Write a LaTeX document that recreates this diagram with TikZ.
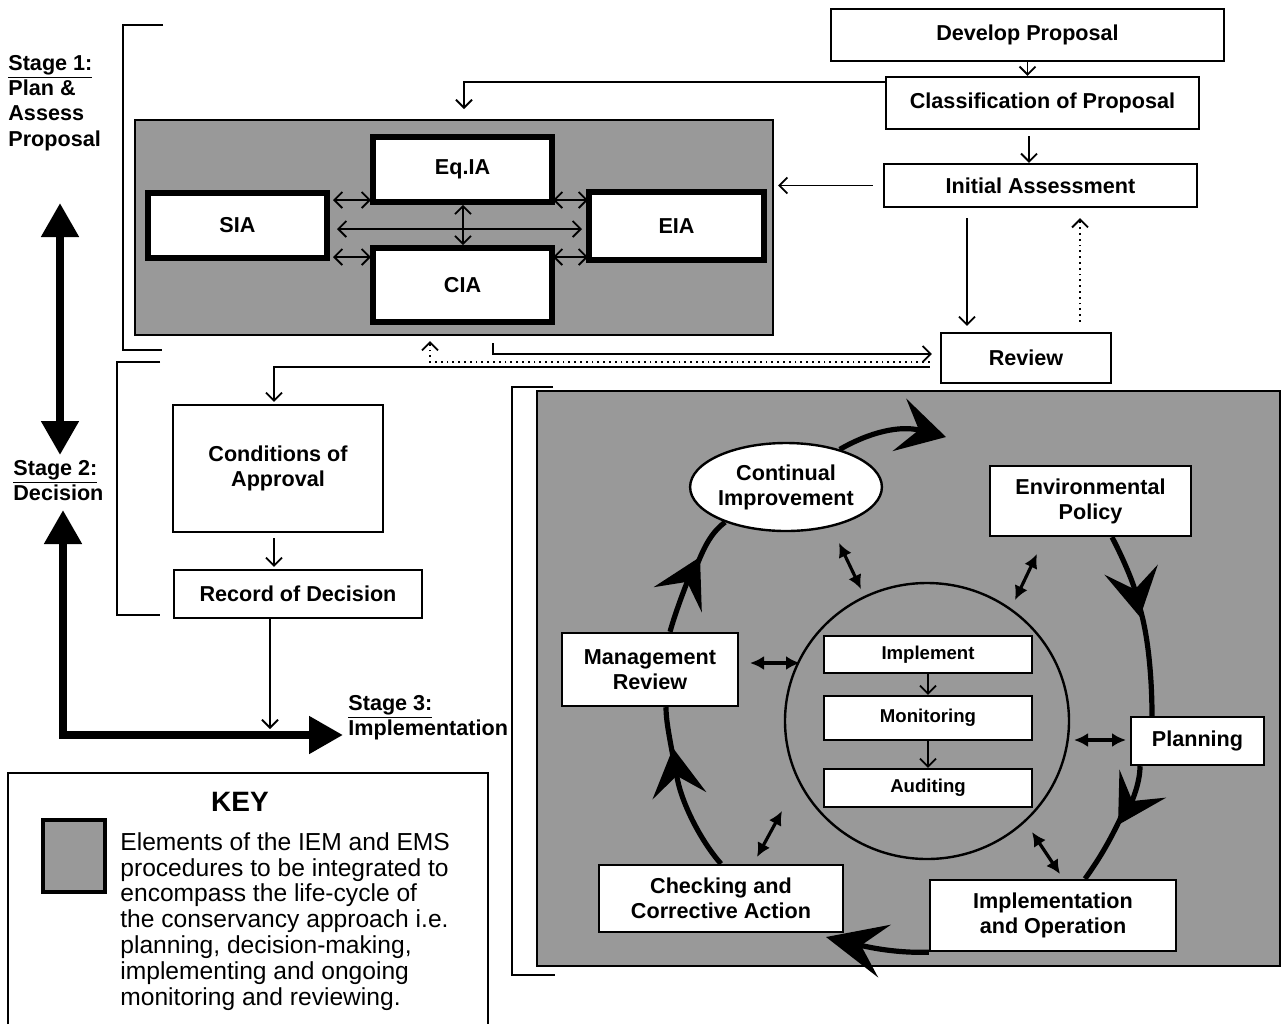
\documentclass[tikz,border=0pt]{standalone}
\usepackage{fontspec}
\setmainfont{Liberation Sans}
\usetikzlibrary{arrows.meta,shapes.geometric}

\begin{document}
\begin{tikzpicture}[x=0.5pt,y=-0.5pt,
  >={Straight Barb[length=4pt,width=8pt]},
  lbl/.style={font=\fontsize{10.8}{12.5}\selectfont\bfseries, align=center},
  small/.style={font=\fontsize{9.3}{11}\selectfont\bfseries},
  box/.style={draw, line width=1.2pt, fill=white, inner sep=0pt, lbl},
  heavybox/.style={box, line width=2.8pt},
  shaded/.style={draw, line width=1pt, fill=black!40, inner sep=0pt},
  conn/.style={line width=0.9pt, ->},
  dconn/.style={line width=0.9pt, <->},
  cyc/.style={line width=2.6pt, -{Stealth[length=24pt,width=27pt,inset=10pt]}},
  cycl/.style={line width=2.6pt},
  dbl/.style={line width=1.6pt, {Latex[length=7pt,width=7pt]}-{Latex[length=7pt,width=7pt]}},
  stagearrow/.style={line width=4pt, line join=miter,
    {Triangle[length=17pt,width=18pt]}-{Triangle[length=17pt,width=18pt]}},
  bracket/.style={line width=1.2pt},
  stagetxt/.style={anchor=north west, inner sep=0pt, align=left,
    font=\fontsize{10.8}{12.6}\selectfont\bfseries}]

\useasboundingbox (0,0) rectangle (1285,1024);
\fill[white] (0,0) rectangle (1285,1024);

% ---------- stage labels, brackets and stage arrows ----------
\node[stagetxt] (s1) at (8,55) {\underline{Stage 1:}\\Plan \&\\Assess\\Proposal};
\node[stagetxt] (s2) at (13,460) {\underline{Stage 2:}\\Decision};
\node[stagetxt] (s3) at (348,695) {\underline{Stage 3:}\\Implementation};

\draw[bracket] (163,25) -- (123,25) -- (123,350) -- (162,350);
\draw[bracket] (160,362) -- (117,362) -- (117,615) -- (160,615);
\draw[bracket] (553,387) -- (512,387) -- (512,975) -- (555,975);

\draw[stagearrow] (60,203) -- (60,455);
\draw[stagearrow] (63,510) -- (63,735) -- (343,735);

% ---------- stage 1: proposal and impact assessments ----------
\node[shaded, minimum width=319pt, minimum height=107.5pt] (ia) at (454,227.5) {};

\node[box, minimum width=196.5pt, minimum height=26pt] (dev) at (1027.5,35) {Develop Proposal};
\node[box, minimum width=156.5pt, minimum height=26pt] (cls) at (1042.5,103) {Classification of Proposal};
\node[box, minimum width=156.5pt, minimum height=21.5pt] (ini) at (1040.5,185.5) {Initial Assessment};
\node[box, minimum width=85pt, minimum height=25pt] (rev) at (1026,358) {Review};

\node[heavybox, minimum width=89.5pt, minimum height=32.5pt] (eqia) at (462.5,169.5) {Eq.IA};
\node[heavybox, minimum width=89.5pt, minimum height=32.5pt] (sia) at (237.5,225.5) {SIA};
\node[heavybox, minimum width=87.5pt, minimum height=34pt] (eia) at (676.5,226) {EIA};
\node[heavybox, minimum width=89.5pt, minimum height=37pt] (cia) at (462.5,285) {CIA};

\draw[dconn] (333,200) -- (371,200);
\draw[dconn] (333,257) -- (371,257);
\draw[dconn] (553,200) -- (588,200);
\draw[dconn] (553,257) -- (588,257);
\draw[dconn] (337,229) -- (582,229);
\draw[dconn] (463,0 |- eqia.south) -- (463,0 |- cia.north);

\draw[conn] (dev.south) -- (dev.south |- cls.north);
\draw[conn, shorten >=5pt] ([yshift=-3pt]cls.north west) -| (464,0 |- ia.north);
\draw[conn, shorten <=3pt] (1029,0 |- cls.south) -- (1029,0 |- ini.north);
\draw[conn, shorten <=5pt, shorten >=2pt] (ini.west) -- (ia.east |- ini.west);
\draw[conn, shorten <=5pt, shorten >=3pt] (967,0 |- ini.south) -- (967,0 |- rev.north);
\draw[conn, dotted, shorten <=5pt, shorten >=5pt] (1080,0 |- rev.north) -- (1080,0 |- ini.south);
\draw[conn, shorten <=3.5pt, shorten >=4pt] (493,0 |- ia.south) |- ([yshift=2pt]rev.west);
\draw[conn, dotted, shorten <=5pt, shorten >=2.5pt] ([yshift=-2pt]rev.west) -| (430,0 |- ia.south);

% ---------- stage 2: decision ----------
\node[box, minimum width=105pt, minimum height=63.5pt] (cond) at (278,468.5) {Conditions of\\Approval};
\node[box, minimum width=124pt, minimum height=24pt] (rec) at (298,594) {Record of Decision};

\draw[conn, shorten <=5pt, shorten >=1pt] ([yshift=-4.5pt]rev.west) -| (274,0 |- cond.north);
\draw[conn, shorten <=2.5pt, shorten >=1pt] (274,0 |- cond.south) -- (274,0 |- rec.north);
\draw[conn] (270,0 |- rec.south) -- (270,729);

% ---------- stage 3: environmental management system ----------
\node[shaded, minimum width=371.5pt, minimum height=287.5pt] (ems) at (908.5,678.5) {};

\node[draw, ellipse, line width=1.2pt, inner sep=0pt,
      minimum width=142pt, minimum height=138pt] (core) at (927,721) {};
\node[draw, ellipse, fill=white, line width=1.2pt, inner sep=0pt, lbl,
      minimum width=92pt, minimum height=44pt] (ci) at (786,487) {Continual\\Improvement};
\node[box, minimum width=100.5pt, minimum height=35pt] (ep) at (1090.5,501) {Environmental\\Policy};
\node[box, minimum width=88pt, minimum height=36.5pt] (mr) at (650,669.5) {Management\\Review};
\node[box, minimum width=66.5pt, minimum height=24pt] (pl) at (1197.5,741) {Planning};
\node[box, minimum width=122pt, minimum height=33.5pt] (chk) at (721,898.5) {Checking and\\Corrective Action};
\node[box, minimum width=123pt, minimum height=35.5pt] (imp) at (1053,915.5) {Implementation\\and Operation};

\node[box, small, minimum width=104pt, minimum height=18.5pt] (impl) at (928,654.5) {Implement};
\node[box, small, minimum width=104pt, minimum height=22pt] (mon) at (928,718) {Monitoring};
\node[box, small, minimum width=104pt, minimum height=19pt] (aud) at (928,788) {Auditing};
\draw[conn] (impl.south) -- (mon.north);
\draw[conn] (mon.south) -- (aud.north);

% the management cycle
\draw[cyc] (ci.35) .. controls (870,432) and (900,425) .. (946,437);
\draw[cyc] (1112,0 |- ep.south) .. controls (1124,560) and (1134,585) .. (1140,617);
\draw[cycl] (1139,605) .. controls (1150,640) and (1152,690) .. (1152,0 |- pl.north);
\draw[cyc] (1140,0 |- pl.south) .. controls (1140,785) and (1130,805) .. (1118,825);
\draw[cycl] (1122,815) .. controls (1108,845) and (1097,862) .. (1085,0 |- imp.north);
\draw[line width=2.6pt, -{Stealth[length=30pt,width=27pt,inset=12pt]}]
  (imp.south west) .. controls (905,953) and (880,950) .. (826,937);
\draw[cyc] (chk.north) .. controls (700,840) and (680,800) .. (673,748);
\draw[cycl] (674,762) .. controls (669,735) and (666,720) .. (666,0 |- mr.south);
\draw[cyc] (670,0 |- mr.north) .. controls (676,610) and (688,580) .. (700,557);
\draw[cycl] (697,565) .. controls (705,545) and (712,532) .. (ci.210);

% links between the cycle and the core
\draw[dbl] (839,543) -- (861,589);
\draw[dbl] (1037,554) -- (1015,600);
\draw[dbl] (750,663) -- (800,663);
\draw[dbl] (1074,740) -- (1126,740);
\draw[dbl] (782,811) -- (757,857);
\draw[dbl] (1032,832) -- (1060,874);

% ---------- key ----------
\draw[line width=1.2pt] (8,1024) -- (8,773) -- (488,773) -- (488,1024);
\node[font=\fontsize{14}{16}\selectfont\bfseries] (key) at (240,802) {KEY};
\node[draw, line width=2pt, fill=black!40, minimum width=31pt, minimum height=36pt] (sw) at (74,856) {};
\node[anchor=north west, inner sep=0pt, align=left,
      font=\fontsize{12.3}{12.9}\selectfont] (keytxt) at (120,832)
  {Elements of the IEM and EMS\\procedures to be integrated to\\encompass the life-cycle of\\the conservancy approach i.e.\\planning, decision-making,\\implementing and ongoing\\monitoring and reviewing.};

\end{tikzpicture}
\end{document}
